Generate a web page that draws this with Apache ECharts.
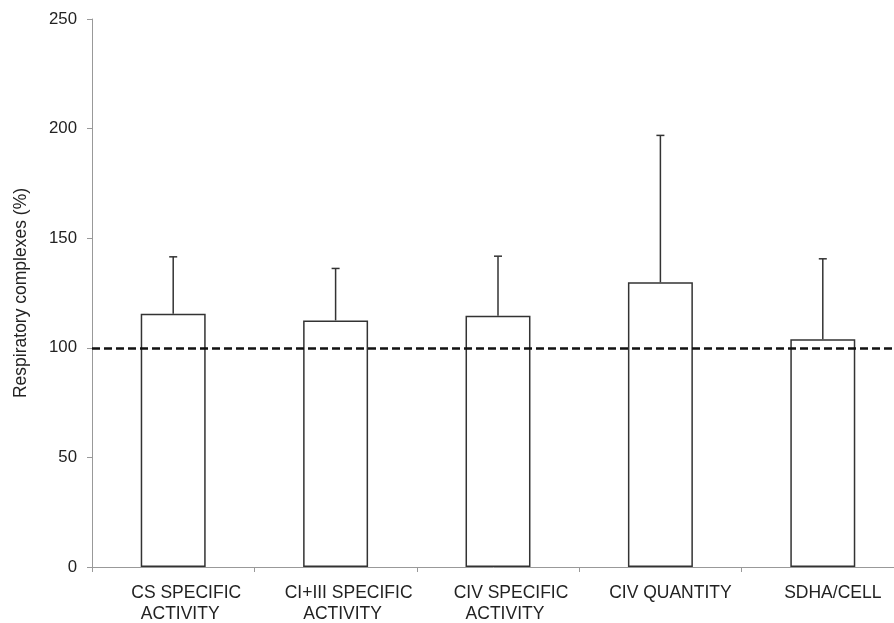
<!DOCTYPE html>
<html>
<head>
<meta charset="utf-8">
<script src="https://cdn.jsdelivr.net/npm/echarts@6/dist/echarts.min.js"></script>
<style>
html,body{margin:0;padding:0;background:#fff;}
#chart{width:894px;height:623px;}
</style>
</head>
<body>
<div id="chart"></div>
<script>
const categories = ['CS SPECIFIC\nACTIVITY', 'CI+III SPECIFIC\nACTIVITY', 'CIV SPECIFIC\nACTIVITY', 'CIV QUANTITY', 'SDHA/CELL'];
const means = [115.5, 112.5, 114.6, 129.9, 103.9];
const upperErrors = [141.5, 136.2, 141.8, 196.9, 140.6];
const referenceLevel = 100;
const yTicks = { min: 0, max: 250, interval: 50 };

const chart = echarts.init(document.getElementById('chart'));
const textColor = '#222';
const axisColor = '#999';
const fontFamily = "'Liberation Sans', Arial, sans-serif";
const labelFont = { color: textColor, fontSize: 17.5, fontFamily: fontFamily, lineHeight: 21 };

chart.setOption({
  animation: false,
  backgroundColor: '#fff',
  grid: { left: 92, top: 19, width: 812, bottom: 56, containLabel: false, outerBoundsMode: 'none' },
  xAxis: {
    type: 'category',
    data: categories,
    axisLine: { lineStyle: { color: axisColor, width: 1 } },
    axisTick: { show: true, alignWithLabel: false, length: 5, lineStyle: { color: axisColor } },
    axisLabel: {
      color: textColor, fontSize: 17.5, fontFamily: fontFamily, lineHeight: 21, margin: 16, interval: 0,
      formatter: function (v) {
        const parts = v.split('\n');
        if (parts.length > 1) return '{a|' + parts[0] + '}\n{b|' + parts[1] + '}';
        return '{c|' + v + '}';
      },
      rich: {
        a: Object.assign({ padding: [0, 0, 0, 26] }, labelFont),
        b: Object.assign({ padding: [0, 0, 0, 14] }, labelFont),
        c: Object.assign({ padding: [0, 0, 0, 20] }, labelFont)
      }
    }
  },
  yAxis: {
    type: 'value',
    min: yTicks.min, max: yTicks.max, interval: yTicks.interval,
    name: 'Respiratory complexes (%)',
    nameLocation: 'middle',
    nameRotate: 90,
    nameGap: 62,
    nameTextStyle: { color: textColor, fontSize: 17.5, fontFamily: fontFamily },
    axisLine: { show: true, lineStyle: { color: axisColor, width: 1 } },
    axisTick: { show: true, length: 5, lineStyle: { color: axisColor } },
    axisLabel: { color: textColor, fontSize: 16.8, fontFamily: fontFamily, margin: 15 },
    splitLine: { show: false }
  },
  series: [
    {
      type: 'bar',
      data: means,
      barWidth: '40%',
      itemStyle: { color: '#fff', borderColor: '#333', borderWidth: 1.5 },
      markLine: {
        silent: true,
        symbol: ['none', 'none'],
        label: { show: false },
        lineStyle: { color: '#111', width: 2.5, type: [8, 4] },
        data: [{ yAxis: referenceLevel }]
      },
      z: 2
    },
    {
      type: 'custom',
      data: means.map((m, i) => [i, m, upperErrors[i]]),
      renderItem: function (params, api) {
        const x = api.value(0);
        const low = api.coord([x, api.value(1)]);
        const high = api.coord([x, api.value(2)]);
        const half = 4;
        const style = { stroke: '#333', lineWidth: 1.5, fill: null };
        return {
          type: 'group',
          children: [
            { type: 'line', shape: { x1: low[0], y1: low[1], x2: high[0], y2: high[1] }, style: style },
            { type: 'line', shape: { x1: high[0] - half, y1: high[1], x2: high[0] + half, y2: high[1] }, style: style }
          ]
        };
      },
      z: 3
    }
  ]
});
</script>
</body>
</html>
